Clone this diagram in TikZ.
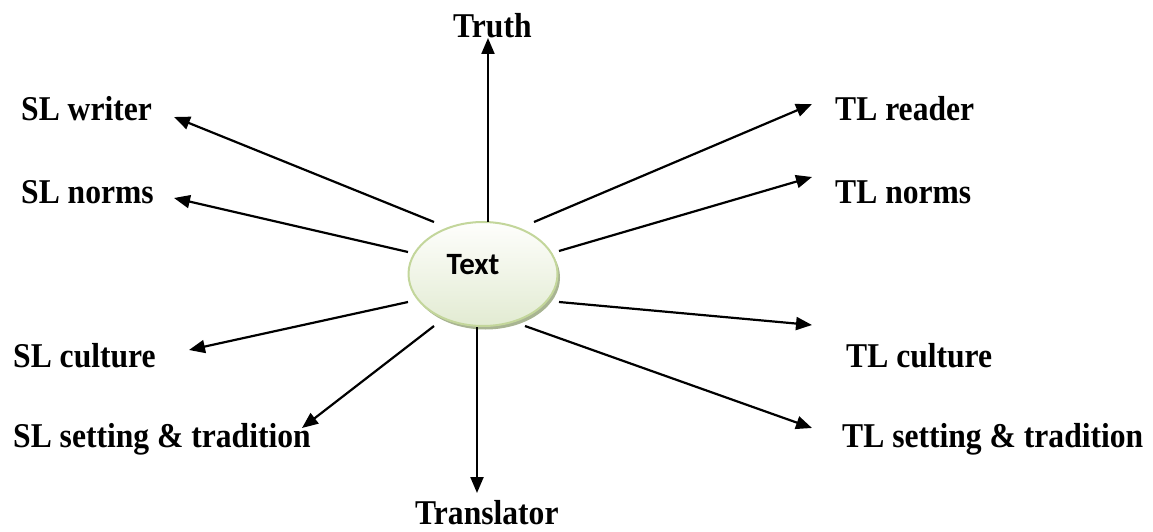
\documentclass[tikz,border=0pt]{standalone}
\usepackage{fontspec}
\usepackage{graphicx}
\setmainfont{Liberation Serif}
\newfontfamily\calfont{Carlito}
\usetikzlibrary{arrows.meta,shapes.geometric}
\definecolor{ellborder}{RGB}{195,214,155}
\definecolor{elltop}{RGB}{254,254,252}
\definecolor{ellbot}{RGB}{226,235,210}
\definecolor{ellshadow}{RGB}{168,180,146}
\newcommand\lab[1]{\scalebox{1}[1.1]{#1}}
\tikzset{
  lbl/.style={anchor=base west, inner sep=0pt, font=\fontsize{31.6}{36}\selectfont\bfseries},
  conn/.style={line width=2.2pt, -{Triangle[length=16pt,width=13pt]}},
  textell/.style={ellipse, minimum width=149pt, minimum height=104pt, inner sep=0pt,
    draw=ellborder, line width=2pt, top color=elltop, bottom color=ellbot},
  shadowell/.style={ellipse, minimum width=149pt, minimum height=104pt, inner sep=0pt,
    fill=ellshadow}
}
\begin{document}
\begin{tikzpicture}[x=1pt,y=-1pt]
\useasboundingbox (0,0) rectangle (1153,532);
% centre ellipse
\node[shadowell] (shadow) at (485.5,277.5) {};
\node[textell] (txt) at (483,274) {\raisebox{0pt}[0pt][0pt]{\makebox[0pt]{\calfont\fontsize{31}{34}\selectfont\bfseries Text\hspace*{20pt}}}};
% labels
\node[lbl] (truth) at (453,38) {\lab{Truth}};
\node[lbl] (slw) at (21,121) {\lab{SL writer}};
\node[lbl] (sln) at (21,203) {\lab{SL norms}};
\node[lbl] (slc) at (13,367) {\lab{SL culture}};
\node[lbl] (sls) at (13,447) {\lab{SL setting \& tradition}};
\node[lbl] (trans) at (415,524) {\lab{Translator}};
\node[lbl] (tlr) at (835,121) {\lab{TL reader}};
\node[lbl] (tln) at (835,203) {\lab{TL norms}};
\node[lbl] (tlc) at (846,367) {\lab{TL culture}};
\node[lbl] (tls) at (842,447) {\lab{TL setting \& tradition}};
% connector start points
\coordinate (a1) at (488,222);
\coordinate (a2) at (434,222);
\coordinate (a3) at (408,252);
\coordinate (a4) at (408,302);
\coordinate (a5) at (434,326);
\coordinate (a6) at (477,327);
\coordinate (a7) at (534,222);
\coordinate (a8) at (559,251);
\coordinate (a9) at (559,302);
\coordinate (a10) at (525,326);
% connector tips
\coordinate (b1) at (488,38);
\coordinate (b2) at (174,117);
\coordinate (b3) at (174,198);
\coordinate (b4) at (189,350);
\coordinate (b5) at (302,428);
\coordinate (b6) at (477,493);
\coordinate (b7) at (812,104);
\coordinate (b8) at (812,177);
\coordinate (b9) at (812,325);
\coordinate (b10) at (812,428);
\foreach \i in {1,...,10} {\draw[conn] (a\i) -- (b\i);}
\end{tikzpicture}
\end{document}
